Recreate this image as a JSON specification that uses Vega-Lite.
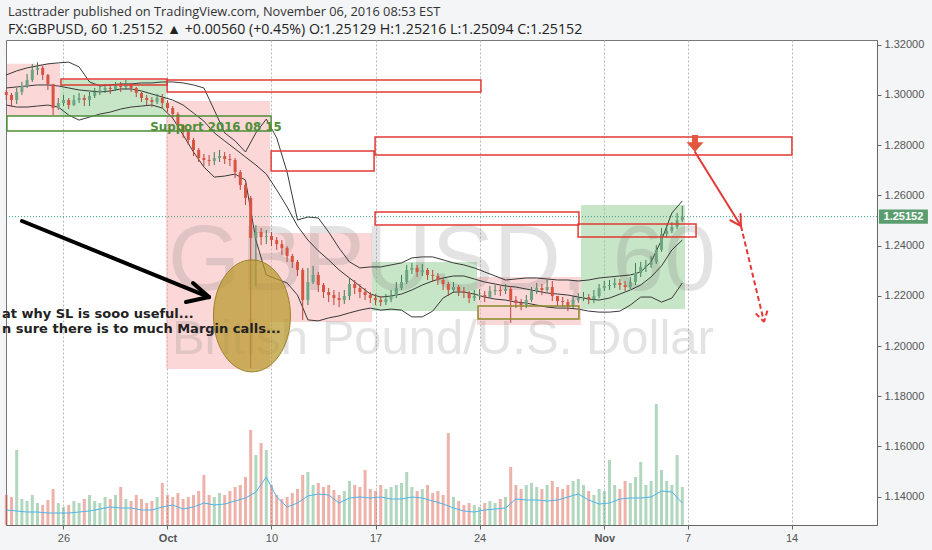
{
  "$schema": "https://vega.github.io/schema/vega-lite/v6.json",
  "width": 871,
  "height": 485,
  "autosize": "none",
  "padding": {"left": 6, "top": 40, "right": 55, "bottom": 25},
  "background": "#f4f5f7",
  "title": {
    "text": "Lasttrader published on TradingView.com, November 06, 2016 08:53 EST",
    "subtitle": "FX:GBPUSD, 60  1.25152 \u25b2 +0.00560 (+0.45%)  O:1.25129  H:1.25216  L:1.25094  C:1.25152",
    "anchor": "start",
    "frame": "group",
    "orient": "top",
    "offset": 2,
    "dx": 2,
    "font": "Open Sans",
    "fontSize": 12.8,
    "fontWeight": "normal",
    "color": "#333",
    "subtitleFont": "Open Sans",
    "subtitleFontSize": 14.2,
    "subtitleColor": "#222",
    "subtitlePadding": 4
  },
  "config": {
    "view": {"fill": "white", "stroke": "#777", "strokeWidth": 1},
    "axis": {"labelFont": "Liberation Sans", "labelColor": "#555", "labelFontSize": 11, "domainColor": "#666", "tickColor": "#666", "tickSize": 4, "title": null}
  },
  "datasets": {
    "candles": [
      {"t":-2.75,"o":1.3012,"h":1.3020,"l":1.2980,"c":1.3000,"v":300},
      {"t":-2.5,"o":1.3000,"h":1.3008,"l":1.2952,"c":1.2980,"v":280},
      {"t":-2.25,"o":1.2980,"h":1.3028,"l":1.2964,"c":1.3012,"v":750},
      {"t":-2,"o":1.3012,"h":1.3052,"l":1.3000,"c":1.3036,"v":260},
      {"t":-1.75,"o":1.3036,"h":1.3084,"l":1.3028,"c":1.3060,"v":240},
      {"t":-1.5,"o":1.3060,"h":1.3124,"l":1.3052,"c":1.3100,"v":300},
      {"t":-1.25,"o":1.3100,"h":1.3131,"l":1.3080,"c":1.3108,"v":220},
      {"t":-1,"o":1.3108,"h":1.3116,"l":1.3060,"c":1.3080,"v":200},
      {"t":-0.75,"o":1.3080,"h":1.3084,"l":1.3020,"c":1.3044,"v":250},
      {"t":-0.5,"o":1.3044,"h":1.3044,"l":1.2920,"c":1.2948,"v":360},
      {"t":-0.25,"o":1.2948,"h":1.2988,"l":1.2940,"c":1.2968,"v":220},
      {"t":0,"o":1.2968,"h":1.3000,"l":1.2956,"c":1.2980,"v":180},
      {"t":0.25,"o":1.2980,"h":1.2988,"l":1.2944,"c":1.2960,"v":200},
      {"t":0.5,"o":1.2960,"h":1.3000,"l":1.2956,"c":1.2980,"v":240},
      {"t":0.75,"o":1.2980,"h":1.3008,"l":1.2968,"c":1.2988,"v":220},
      {"t":1,"o":1.2988,"h":1.3000,"l":1.2956,"c":1.2980,"v":260},
      {"t":1.25,"o":1.2980,"h":1.3012,"l":1.2956,"c":1.2996,"v":300},
      {"t":1.5,"o":1.2996,"h":1.3028,"l":1.2988,"c":1.3012,"v":240},
      {"t":1.75,"o":1.3012,"h":1.3036,"l":1.3000,"c":1.3020,"v":220},
      {"t":2,"o":1.3020,"h":1.3044,"l":1.3008,"c":1.3028,"v":280},
      {"t":2.25,"o":1.3028,"h":1.3044,"l":1.3004,"c":1.3024,"v":260},
      {"t":2.5,"o":1.3024,"h":1.3052,"l":1.3016,"c":1.3036,"v":300},
      {"t":2.75,"o":1.3036,"h":1.3052,"l":1.3012,"c":1.3032,"v":380},
      {"t":3,"o":1.3032,"h":1.3060,"l":1.3020,"c":1.3044,"v":260},
      {"t":3.25,"o":1.3044,"h":1.3048,"l":1.3012,"c":1.3028,"v":240},
      {"t":3.5,"o":1.3028,"h":1.3032,"l":1.2992,"c":1.3008,"v":300},
      {"t":3.75,"o":1.3008,"h":1.3012,"l":1.2972,"c":1.2988,"v":260},
      {"t":4,"o":1.2988,"h":1.3000,"l":1.2960,"c":1.2980,"v":220},
      {"t":4.25,"o":1.2980,"h":1.2992,"l":1.2952,"c":1.2972,"v":240},
      {"t":4.5,"o":1.2972,"h":1.3004,"l":1.2964,"c":1.2988,"v":280},
      {"t":4.75,"o":1.2988,"h":1.3004,"l":1.2948,"c":1.2968,"v":420},
      {"t":5,"o":1.2968,"h":1.2980,"l":1.2932,"c":1.2948,"v":300},
      {"t":5.25,"o":1.2948,"h":1.2956,"l":1.2908,"c":1.2924,"v":280},
      {"t":5.5,"o":1.2924,"h":1.2932,"l":1.2861,"c":1.2880,"v":320},
      {"t":5.75,"o":1.2880,"h":1.2884,"l":1.2829,"c":1.2853,"v":260},
      {"t":6,"o":1.2853,"h":1.2861,"l":1.2801,"c":1.2821,"v":280},
      {"t":6.25,"o":1.2821,"h":1.2829,"l":1.2757,"c":1.2781,"v":300},
      {"t":6.5,"o":1.2781,"h":1.2789,"l":1.2733,"c":1.2749,"v":340},
      {"t":6.75,"o":1.2749,"h":1.2765,"l":1.2717,"c":1.2741,"v":500},
      {"t":7,"o":1.2741,"h":1.2761,"l":1.2717,"c":1.2737,"v":300},
      {"t":7.25,"o":1.2737,"h":1.2773,"l":1.2721,"c":1.2749,"v":280},
      {"t":7.5,"o":1.2749,"h":1.2781,"l":1.2733,"c":1.2757,"v":320},
      {"t":7.75,"o":1.2757,"h":1.2773,"l":1.2725,"c":1.2745,"v":300},
      {"t":8,"o":1.2745,"h":1.2765,"l":1.2717,"c":1.2741,"v":340},
      {"t":8.25,"o":1.2741,"h":1.2749,"l":1.2669,"c":1.2693,"v":380},
      {"t":8.5,"o":1.2693,"h":1.2701,"l":1.2622,"c":1.2641,"v":400},
      {"t":8.75,"o":1.2641,"h":1.2649,"l":1.2562,"c":1.2590,"v":480},
      {"t":9,"o":1.2590,"h":1.2598,"l":1.1912,"c":1.2430,"v":950},
      {"t":9.25,"o":1.2430,"h":1.2482,"l":1.2235,"c":1.2454,"v":700},
      {"t":9.5,"o":1.2454,"h":1.2470,"l":1.2402,"c":1.2434,"v":820},
      {"t":9.75,"o":1.2434,"h":1.2462,"l":1.2406,"c":1.2438,"v":750},
      {"t":10,"o":1.2438,"h":1.2454,"l":1.2398,"c":1.2422,"v":400},
      {"t":10.25,"o":1.2422,"h":1.2434,"l":1.2383,"c":1.2406,"v":300},
      {"t":10.5,"o":1.2406,"h":1.2422,"l":1.2363,"c":1.2390,"v":260},
      {"t":10.75,"o":1.2390,"h":1.2398,"l":1.2335,"c":1.2359,"v":280},
      {"t":11,"o":1.2359,"h":1.2367,"l":1.2311,"c":1.2335,"v":320},
      {"t":11.25,"o":1.2335,"h":1.2343,"l":1.2279,"c":1.2303,"v":360},
      {"t":11.5,"o":1.2303,"h":1.2311,"l":1.2104,"c":1.2183,"v":500},
      {"t":11.75,"o":1.2183,"h":1.2311,"l":1.2163,"c":1.2255,"v":530},
      {"t":12,"o":1.2255,"h":1.2319,"l":1.2247,"c":1.2283,"v":400},
      {"t":12.25,"o":1.2283,"h":1.2295,"l":1.2215,"c":1.2243,"v":420},
      {"t":12.5,"o":1.2243,"h":1.2251,"l":1.2191,"c":1.2215,"v":380},
      {"t":12.75,"o":1.2215,"h":1.2231,"l":1.2175,"c":1.2203,"v":400},
      {"t":13,"o":1.2203,"h":1.2223,"l":1.2163,"c":1.2191,"v":350},
      {"t":13.25,"o":1.2191,"h":1.2215,"l":1.2155,"c":1.2183,"v":300},
      {"t":13.5,"o":1.2183,"h":1.2223,"l":1.2167,"c":1.2199,"v":340},
      {"t":13.75,"o":1.2199,"h":1.2271,"l":1.2183,"c":1.2247,"v":440},
      {"t":14,"o":1.2247,"h":1.2263,"l":1.2207,"c":1.2231,"v":400},
      {"t":14.25,"o":1.2231,"h":1.2247,"l":1.2191,"c":1.2215,"v":380},
      {"t":14.5,"o":1.2215,"h":1.2231,"l":1.2183,"c":1.2203,"v":550},
      {"t":14.75,"o":1.2203,"h":1.2215,"l":1.2171,"c":1.2191,"v":360},
      {"t":15,"o":1.2191,"h":1.2207,"l":1.2163,"c":1.2183,"v":340},
      {"t":15.25,"o":1.2183,"h":1.2199,"l":1.2159,"c":1.2175,"v":400},
      {"t":15.5,"o":1.2175,"h":1.2207,"l":1.2163,"c":1.2187,"v":360},
      {"t":15.75,"o":1.2187,"h":1.2223,"l":1.2175,"c":1.2199,"v":380},
      {"t":16,"o":1.2199,"h":1.2255,"l":1.2191,"c":1.2231,"v":400},
      {"t":16.25,"o":1.2231,"h":1.2283,"l":1.2223,"c":1.2255,"v":420},
      {"t":16.5,"o":1.2255,"h":1.2323,"l":1.2247,"c":1.2303,"v":530},
      {"t":16.75,"o":1.2303,"h":1.2331,"l":1.2287,"c":1.2311,"v":380},
      {"t":17,"o":1.2311,"h":1.2323,"l":1.2275,"c":1.2295,"v":340},
      {"t":17.25,"o":1.2295,"h":1.2327,"l":1.2279,"c":1.2303,"v":360},
      {"t":17.5,"o":1.2303,"h":1.2311,"l":1.2263,"c":1.2283,"v":400},
      {"t":17.75,"o":1.2283,"h":1.2303,"l":1.2255,"c":1.2279,"v":320},
      {"t":18,"o":1.2279,"h":1.2291,"l":1.2243,"c":1.2263,"v":340},
      {"t":18.25,"o":1.2263,"h":1.2275,"l":1.2223,"c":1.2247,"v":300},
      {"t":18.5,"o":1.2247,"h":1.2255,"l":1.2199,"c":1.2223,"v":920},
      {"t":18.75,"o":1.2223,"h":1.2255,"l":1.2211,"c":1.2235,"v":280},
      {"t":19,"o":1.2235,"h":1.2243,"l":1.2199,"c":1.2219,"v":240},
      {"t":19.25,"o":1.2219,"h":1.2235,"l":1.2191,"c":1.2211,"v":200},
      {"t":19.5,"o":1.2211,"h":1.2219,"l":1.2171,"c":1.2191,"v":220},
      {"t":19.75,"o":1.2191,"h":1.2223,"l":1.2179,"c":1.2199,"v":200},
      {"t":20,"o":1.2199,"h":1.2227,"l":1.2183,"c":1.2203,"v":180},
      {"t":20.25,"o":1.2203,"h":1.2219,"l":1.2175,"c":1.2195,"v":220},
      {"t":20.5,"o":1.2195,"h":1.2239,"l":1.2191,"c":1.2219,"v":240},
      {"t":20.75,"o":1.2219,"h":1.2243,"l":1.2203,"c":1.2223,"v":220},
      {"t":21,"o":1.2223,"h":1.2239,"l":1.2199,"c":1.2219,"v":260},
      {"t":21.25,"o":1.2219,"h":1.2247,"l":1.2207,"c":1.2227,"v":280},
      {"t":21.5,"o":1.2227,"h":1.2239,"l":1.2092,"c":1.2183,"v":580},
      {"t":21.75,"o":1.2183,"h":1.2199,"l":1.2151,"c":1.2171,"v":400},
      {"t":22,"o":1.2171,"h":1.2187,"l":1.2143,"c":1.2163,"v":360},
      {"t":22.25,"o":1.2163,"h":1.2203,"l":1.2151,"c":1.2183,"v":400},
      {"t":22.5,"o":1.2183,"h":1.2235,"l":1.2175,"c":1.2219,"v":420},
      {"t":22.75,"o":1.2219,"h":1.2251,"l":1.2207,"c":1.2231,"v":380},
      {"t":23,"o":1.2231,"h":1.2247,"l":1.2203,"c":1.2223,"v":360},
      {"t":23.25,"o":1.2223,"h":1.2263,"l":1.2215,"c":1.2235,"v":400},
      {"t":23.5,"o":1.2235,"h":1.2259,"l":1.2179,"c":1.2199,"v":440},
      {"t":23.75,"o":1.2199,"h":1.2199,"l":1.2159,"c":1.2179,"v":380},
      {"t":24,"o":1.2179,"h":1.2195,"l":1.2155,"c":1.2175,"v":360},
      {"t":24.25,"o":1.2175,"h":1.2187,"l":1.2139,"c":1.2159,"v":400},
      {"t":24.5,"o":1.2159,"h":1.2199,"l":1.2151,"c":1.2183,"v":440},
      {"t":24.75,"o":1.2183,"h":1.2211,"l":1.2171,"c":1.2191,"v":460},
      {"t":25,"o":1.2191,"h":1.2215,"l":1.2179,"c":1.2195,"v":400},
      {"t":25.25,"o":1.2195,"h":1.2207,"l":1.2167,"c":1.2187,"v":340},
      {"t":25.5,"o":1.2187,"h":1.2223,"l":1.2171,"c":1.2199,"v":300},
      {"t":25.75,"o":1.2199,"h":1.2247,"l":1.2191,"c":1.2231,"v":360},
      {"t":26,"o":1.2231,"h":1.2259,"l":1.2219,"c":1.2239,"v":340},
      {"t":26.25,"o":1.2239,"h":1.2263,"l":1.2223,"c":1.2243,"v":650},
      {"t":26.5,"o":1.2243,"h":1.2271,"l":1.2231,"c":1.2251,"v":400},
      {"t":26.75,"o":1.2251,"h":1.2267,"l":1.2223,"c":1.2243,"v":360},
      {"t":27,"o":1.2243,"h":1.2259,"l":1.2219,"c":1.2235,"v":440},
      {"t":27.25,"o":1.2235,"h":1.2275,"l":1.2227,"c":1.2255,"v":420},
      {"t":27.5,"o":1.2255,"h":1.2331,"l":1.2243,"c":1.2291,"v":480},
      {"t":27.75,"o":1.2291,"h":1.2335,"l":1.2275,"c":1.2315,"v":630},
      {"t":28,"o":1.2315,"h":1.2343,"l":1.2295,"c":1.2323,"v":400},
      {"t":28.25,"o":1.2323,"h":1.2359,"l":1.2311,"c":1.2335,"v":440},
      {"t":28.5,"o":1.2335,"h":1.2402,"l":1.2327,"c":1.2383,"v":1210},
      {"t":28.75,"o":1.2383,"h":1.2470,"l":1.2375,"c":1.2446,"v":550},
      {"t":29,"o":1.2446,"h":1.2482,"l":1.2434,"c":1.2458,"v":440},
      {"t":29.25,"o":1.2458,"h":1.2494,"l":1.2450,"c":1.2474,"v":400},
      {"t":29.5,"o":1.2474,"h":1.2530,"l":1.2466,"c":1.2502,"v":700},
      {"t":29.75,"o":1.2502,"h":1.2558,"l":1.2494,"c":1.2515,"v":380}
    ],
    "bands": [
      {"t":-2.75,"u":1.3080,"m":1.3028,"lo":1.2960,"vm":150},
      {"t":-2.25,"u":1.3096,"m":1.3032,"lo":1.2952,"vm":140},
      {"t":-1.75,"u":1.3108,"m":1.3036,"lo":1.2952,"vm":130},
      {"t":-1.25,"u":1.3116,"m":1.3040,"lo":1.2956,"vm":130},
      {"t":-0.75,"u":1.3124,"m":1.3040,"lo":1.2960,"vm":120},
      {"t":-0.25,"u":1.3128,"m":1.3036,"lo":1.2952,"vm":120},
      {"t":0.25,"u":1.3131,"m":1.3028,"lo":1.2920,"vm":120},
      {"t":0.75,"u":1.3112,"m":1.3020,"lo":1.2900,"vm":130},
      {"t":1.25,"u":1.3052,"m":1.3016,"lo":1.2912,"vm":140},
      {"t":1.75,"u":1.3036,"m":1.3012,"lo":1.2924,"vm":160},
      {"t":2.25,"u":1.3040,"m":1.3016,"lo":1.2932,"vm":180},
      {"t":2.75,"u":1.3044,"m":1.3024,"lo":1.2944,"vm":170},
      {"t":3.25,"u":1.3044,"m":1.3024,"lo":1.2952,"vm":170},
      {"t":3.75,"u":1.3048,"m":1.3016,"lo":1.2956,"vm":150},
      {"t":4.25,"u":1.3048,"m":1.3004,"lo":1.2960,"vm":150},
      {"t":4.75,"u":1.3052,"m":1.2992,"lo":1.2948,"vm":180},
      {"t":5.25,"u":1.3052,"m":1.2980,"lo":1.2908,"vm":200},
      {"t":5.75,"u":1.3048,"m":1.2960,"lo":1.2841,"vm":160},
      {"t":6.25,"u":1.3040,"m":1.2928,"lo":1.2773,"vm":180},
      {"t":6.75,"u":1.3028,"m":1.2896,"lo":1.2713,"vm":220},
      {"t":7.25,"u":1.2940,"m":1.2849,"lo":1.2673,"vm":200},
      {"t":7.75,"u":1.2849,"m":1.2817,"lo":1.2677,"vm":210},
      {"t":8.25,"u":1.2817,"m":1.2785,"lo":1.2685,"vm":240},
      {"t":8.75,"u":1.2773,"m":1.2753,"lo":1.2661,"vm":270},
      {"t":9.25,"u":1.2849,"m":1.2721,"lo":1.2422,"vm":330},
      {"t":9.75,"u":1.2904,"m":1.2685,"lo":1.2283,"vm":480},
      {"t":10.25,"u":1.2829,"m":1.2622,"lo":1.2267,"vm":280},
      {"t":10.75,"u":1.2693,"m":1.2554,"lo":1.2251,"vm":180},
      {"t":11.25,"u":1.2502,"m":1.2478,"lo":1.2203,"vm":220},
      {"t":11.75,"u":1.2514,"m":1.2422,"lo":1.2104,"vm":290},
      {"t":12.25,"u":1.2510,"m":1.2379,"lo":1.2100,"vm":310},
      {"t":12.75,"u":1.2454,"m":1.2343,"lo":1.2112,"vm":300},
      {"t":13.25,"u":1.2390,"m":1.2303,"lo":1.2120,"vm":220},
      {"t":13.75,"u":1.2335,"m":1.2271,"lo":1.2132,"vm":270},
      {"t":14.25,"u":1.2311,"m":1.2239,"lo":1.2143,"vm":280},
      {"t":14.75,"u":1.2315,"m":1.2207,"lo":1.2151,"vm":270},
      {"t":15.25,"u":1.2315,"m":1.2195,"lo":1.2143,"vm":280},
      {"t":15.75,"u":1.2323,"m":1.2199,"lo":1.2147,"vm":260},
      {"t":16.25,"u":1.2331,"m":1.2207,"lo":1.2143,"vm":260},
      {"t":16.75,"u":1.2351,"m":1.2223,"lo":1.2116,"vm":280},
      {"t":17.25,"u":1.2355,"m":1.2243,"lo":1.2116,"vm":270},
      {"t":17.75,"u":1.2355,"m":1.2259,"lo":1.2139,"vm":240},
      {"t":18.25,"u":1.2343,"m":1.2271,"lo":1.2191,"vm":210},
      {"t":18.75,"u":1.2331,"m":1.2279,"lo":1.2215,"vm":170},
      {"t":19.25,"u":1.2323,"m":1.2279,"lo":1.2215,"vm":140},
      {"t":19.75,"u":1.2311,"m":1.2267,"lo":1.2207,"vm":130},
      {"t":20.25,"u":1.2295,"m":1.2255,"lo":1.2195,"vm":150},
      {"t":20.75,"u":1.2279,"m":1.2247,"lo":1.2187,"vm":160},
      {"t":21.25,"u":1.2263,"m":1.2239,"lo":1.2183,"vm":170},
      {"t":21.75,"u":1.2267,"m":1.2235,"lo":1.2175,"vm":260},
      {"t":22.25,"u":1.2271,"m":1.2227,"lo":1.2171,"vm":250},
      {"t":22.75,"u":1.2271,"m":1.2219,"lo":1.2163,"vm":250},
      {"t":23.25,"u":1.2267,"m":1.2211,"lo":1.2155,"vm":240},
      {"t":23.75,"u":1.2263,"m":1.2207,"lo":1.2151,"vm":250},
      {"t":24.25,"u":1.2263,"m":1.2203,"lo":1.2151,"vm":280},
      {"t":24.75,"u":1.2259,"m":1.2195,"lo":1.2147,"vm":310},
      {"t":25.25,"u":1.2263,"m":1.2187,"lo":1.2139,"vm":250},
      {"t":25.75,"u":1.2271,"m":1.2183,"lo":1.2135,"vm":210},
      {"t":26.25,"u":1.2275,"m":1.2191,"lo":1.2135,"vm":220},
      {"t":26.75,"u":1.2279,"m":1.2207,"lo":1.2139,"vm":260},
      {"t":27.25,"u":1.2283,"m":1.2223,"lo":1.2163,"vm":270},
      {"t":27.75,"u":1.2295,"m":1.2243,"lo":1.2195,"vm":270},
      {"t":28.25,"u":1.2335,"m":1.2275,"lo":1.2195,"vm":280},
      {"t":28.75,"u":1.2422,"m":1.2319,"lo":1.2175,"vm":340},
      {"t":29.25,"u":1.2530,"m":1.2383,"lo":1.2191,"vm":330},
      {"t":29.75,"u":1.2578,"m":1.2422,"lo":1.2251,"vm":220}
    ],
    "zones": [
      {"t1":-2.72,"t2":-0.17,"p1":1.3124,"p2":1.2916,"kind":"sell"},
      {"t1":-0.17,"t2":4.93,"p1":1.3060,"p2":1.2916,"kind":"buy"},
      {"t1":4.93,"t2":9.93,"p1":1.2976,"p2":1.1908,"kind":"sell"},
      {"t1":9.93,"t2":14.83,"p1":1.2450,"p2":1.2096,"kind":"sell"},
      {"t1":14.83,"t2":19.88,"p1":1.2335,"p2":1.2139,"kind":"buy"},
      {"t1":19.88,"t2":24.88,"p1":1.2275,"p2":1.2084,"kind":"sell"},
      {"t1":24.88,"t2":29.88,"p1":1.2562,"p2":1.2147,"kind":"buy"}
    ],
    "boxes": [
      {"t1":-0.12,"t2":4.98,"p1":1.3064,"p2":1.3040,"kind":"resistance"},
      {"t1":-2.72,"t2":9.98,"p1":1.2916,"p2":1.2857,"kind":"support"},
      {"t1":4.98,"t2":20.07,"p1":1.3060,"p2":1.3012,"kind":"resistance"},
      {"t1":9.98,"t2":14.93,"p1":1.2777,"p2":1.2697,"kind":"resistance"},
      {"t1":14.98,"t2":35.02,"p1":1.2833,"p2":1.2761,"kind":"resistance"},
      {"t1":14.98,"t2":24.78,"p1":1.2534,"p2":1.2482,"kind":"resistance"},
      {"t1":19.93,"t2":24.78,"p1":1.2159,"p2":1.2108,"kind":"range"},
      {"t1":24.74,"t2":30.41,"p1":1.2486,"p2":1.2434,"kind":"resistance"}
    ],
    "watermark": [
      {"t":18.2,"p":1.2223,"text":"GBPUSD, 60","role":"symbol"},
      {"t":18.24,"p":1.1968,"text":"British Pound/U.S. Dollar","role":"name"}
    ],
    "support": [
      {"t":7.33,"p":1.2857,"text":"Support 2016 08 15"}
    ],
    "notes": [
      {"t":-2.96,"p":1.2110,"text":"at why SL is sooo useful..."},
      {"t":-2.96,"p":1.2052,"text":"n sure there is to much Margin calls..."}
    ],
    "crash": [
      {"t":9.06,"p":1.2120}
    ],
    "pointer": [
      {"t1":-1.995,"p1":1.2498,"t2":6.995,"p2":1.2195},
      {"t1":6.226,"p1":1.2251,"t2":6.995,"p2":1.2195},
      {"t1":5.889,"p1":1.2175,"t2":6.995,"p2":1.2195}
    ],
    "forecast": [
      {"t1":30.36,"p1":1.2773,"t2":32.57,"p2":1.2478,"leg":"first"},
      {"t1":32.55,"p1":1.2526,"t2":32.57,"p2":1.2478,"leg":"first"},
      {"t1":32.06,"p1":1.2501,"t2":32.57,"p2":1.2478,"leg":"first"},
      {"t1":32.57,"p1":1.2478,"t2":33.68,"p2":1.2096,"leg":"second"},
      {"t1":33.84,"p1":1.2141,"t2":33.68,"p2":1.2096,"leg":"second"},
      {"t1":33.28,"p1":1.2130,"t2":33.68,"p2":1.2096,"leg":"second"}
    ],
    "signal": [
      {"t":30.36,"p":1.2807}
    ],
    "last": [
      {"p":1.25152,"label":"1.25152"}
    ]
  },
  "resolve": {"scale": {"y": "independent"}},
  "layer": [
    {
      "layer": [
        {
          "data": {"name": "candles"},
          "mark": {"type": "rule", "strokeWidth": 3, "opacity": 0.45},
          "encoding": {
            "x": {
              "field": "t", "type": "quantitative",
              "scale": {"domain": [-2.764, 39.11], "nice": false, "zero": false},
              "axis": {
                "values": [0, 5, 10, 15, 20, 26, 30, 35],
                "labelExpr": "datum.value == 0 ? '26' : datum.value == 5 ? 'Oct' : datum.value == 10 ? '10' : datum.value == 15 ? '17' : datum.value == 20 ? '24' : datum.value == 26 ? 'Nov' : datum.value == 30 ? '7' : '14'",
                "labelFontWeight": {"condition": {"test": "datum.value == 5 || datum.value == 26", "value": "bold"}, "value": "normal"},
                "grid": true, "gridDash": [2, 2], "gridColor": "#b8b8b8", "labelPadding": 3
              }
            },
            "y": {"field": "v", "type": "quantitative", "scale": {"domain": [0, 4850], "nice": false}, "axis": null},
            "y2": {"datum": 0},
            "color": {"condition": {"test": "datum.c >= datum.o", "value": "#53a66f"}, "value": "#d75442"}
          }
        },
        {
          "data": {"name": "bands"},
          "mark": {"type": "line", "color": "#4fb3e8", "strokeWidth": 1},
          "encoding": {
            "x": {"field": "t", "type": "quantitative"},
            "y": {"field": "vm", "type": "quantitative"}
          }
        }
      ]
    },
    {
      "layer": [
        {
          "data": {"name": "zones"},
          "mark": {"type": "rect", "opacity": 0.5},
          "encoding": {
            "x": {"field": "t1", "type": "quantitative"},
            "x2": {"field": "t2"},
            "y": {
              "field": "p1", "type": "quantitative",
              "scale": {"domain": [1.12869, 1.32191], "nice": false, "zero": false},
              "axis": {"orient": "right", "values": [1.14, 1.16, 1.18, 1.2, 1.22, 1.24, 1.26, 1.28, 1.3, 1.32], "format": ".5f", "grid": false, "labelPadding": 3}
            },
            "y2": {"field": "p2"},
            "fill": {"field": "kind", "type": "nominal", "scale": {"domain": ["sell", "buy"], "range": ["#f7b0b0", "#8fcc8f"]}, "legend": null}
          }
        },
        {
          "data": {"name": "last"},
          "mark": {"type": "rule", "color": "#3a9a7a", "strokeWidth": 1, "strokeDash": [1, 2]},
          "encoding": {"y": {"field": "p", "type": "quantitative"}}
        },
        {
          "data": {"name": "watermark"},
          "transform": [{"filter": "datum.role == 'symbol'"}],
          "mark": {"type": "text", "font": "Liberation Sans", "fontSize": 93, "align": "center", "baseline": "alphabetic", "color": "#777", "opacity": 0.2},
          "encoding": {
            "x": {"field": "t", "type": "quantitative"},
            "y": {"field": "p", "type": "quantitative"},
            "text": {"field": "text"}
          }
        },
        {
          "data": {"name": "watermark"},
          "transform": [{"filter": "datum.role == 'name'"}],
          "mark": {"type": "text", "font": "Liberation Sans", "fontSize": 49, "align": "center", "baseline": "alphabetic", "color": "#777", "opacity": 0.2},
          "encoding": {
            "x": {"field": "t", "type": "quantitative"},
            "y": {"field": "p", "type": "quantitative"},
            "text": {"field": "text"}
          }
        },
        {
          "data": {"name": "bands"},
          "mark": {"type": "line", "color": "#3a3a3a", "strokeWidth": 1},
          "encoding": {"x": {"field": "t", "type": "quantitative"}, "y": {"field": "u", "type": "quantitative"}}
        },
        {
          "data": {"name": "bands"},
          "mark": {"type": "line", "color": "#3a3a3a", "strokeWidth": 1},
          "encoding": {"x": {"field": "t", "type": "quantitative"}, "y": {"field": "m", "type": "quantitative"}}
        },
        {
          "data": {"name": "bands"},
          "mark": {"type": "line", "color": "#3a3a3a", "strokeWidth": 1},
          "encoding": {"x": {"field": "t", "type": "quantitative"}, "y": {"field": "lo", "type": "quantitative"}}
        },
        {
          "data": {"name": "candles"},
          "mark": {"type": "rule", "strokeWidth": 1},
          "encoding": {
            "x": {"field": "t", "type": "quantitative"},
            "y": {"field": "l", "type": "quantitative"},
            "y2": {"field": "h"},
            "color": {"condition": {"test": "datum.c >= datum.o", "value": "#3f7f55"}, "value": "#b8473a"}
          }
        },
        {
          "data": {"name": "candles"},
          "mark": {"type": "rule", "strokeWidth": 3},
          "encoding": {
            "x": {"field": "t", "type": "quantitative"},
            "y": {"field": "o", "type": "quantitative"},
            "y2": {"field": "c"},
            "color": {"condition": {"test": "datum.c >= datum.o", "value": "#6ba583"}, "value": "#d75442"}
          }
        },
        {
          "data": {"name": "boxes"},
          "mark": {"type": "rect", "filled": false, "strokeWidth": 1.5},
          "encoding": {
            "x": {"field": "t1", "type": "quantitative"},
            "x2": {"field": "t2"},
            "y": {"field": "p1", "type": "quantitative"},
            "y2": {"field": "p2"},
            "stroke": {"field": "kind", "type": "nominal", "scale": {"domain": ["resistance", "support", "range"], "range": ["#e03a35", "#4e8f37", "#8a8a2a"]}, "legend": null}
          }
        },
        {
          "data": {"name": "crash"},
          "mark": {"type": "point", "shape": "M0,-1A0.6875,1,0,1,1,0,1A0.6875,1,0,1,1,0,-1Z", "size": 12544, "filled": true, "fill": "#b8992c", "fillOpacity": 0.72, "stroke": "#9c8226", "strokeWidth": 1, "opacity": 1},
          "encoding": {"x": {"field": "t", "type": "quantitative"}, "y": {"field": "p", "type": "quantitative"}}
        },
        {
          "data": {"name": "support"},
          "mark": {"type": "text", "font": "DejaVu Sans", "fontWeight": "bold", "fontSize": 11.8, "align": "center", "baseline": "alphabetic", "color": "#4e8f37"},
          "encoding": {
            "x": {"field": "t", "type": "quantitative"},
            "y": {"field": "p", "type": "quantitative"},
            "text": {"field": "text"}
          }
        },
        {
          "data": {"name": "notes"},
          "mark": {"type": "text", "font": "DejaVu Sans", "fontWeight": "bold", "fontSize": 13, "align": "left", "baseline": "alphabetic", "color": "#222"},
          "encoding": {
            "x": {"field": "t", "type": "quantitative"},
            "y": {"field": "p", "type": "quantitative"},
            "text": {"field": "text"}
          }
        },
        {
          "data": {"name": "pointer"},
          "mark": {"type": "rule", "color": "#000", "strokeWidth": 4, "strokeCap": "round"},
          "encoding": {
            "x": {"field": "t1", "type": "quantitative"},
            "y": {"field": "p1", "type": "quantitative"},
            "x2": {"field": "t2"},
            "y2": {"field": "p2"}
          }
        },
        {
          "data": {"name": "forecast"},
          "transform": [{"filter": "datum.leg == 'first'"}],
          "mark": {"type": "rule", "color": "#e53935", "strokeWidth": 2, "strokeCap": "round"},
          "encoding": {
            "x": {"field": "t1", "type": "quantitative"},
            "y": {"field": "p1", "type": "quantitative"},
            "x2": {"field": "t2"},
            "y2": {"field": "p2"}
          }
        },
        {
          "data": {"name": "forecast"},
          "transform": [{"filter": "datum.leg == 'second'"}],
          "mark": {"type": "rule", "color": "#e53935", "strokeWidth": 2, "strokeDash": [5, 3]},
          "encoding": {
            "x": {"field": "t1", "type": "quantitative"},
            "y": {"field": "p1", "type": "quantitative"},
            "x2": {"field": "t2"},
            "y2": {"field": "p2"}
          }
        },
        {
          "data": {"name": "signal"},
          "mark": {"type": "point", "shape": "M-0.35,-1L0.35,-1L0.35,-0.15L1,-0.15L0,1L-1,-0.15L-0.35,-0.15Z", "size": 289, "filled": true, "fill": "#e2583e", "opacity": 1},
          "encoding": {"x": {"field": "t", "type": "quantitative"}, "y": {"field": "p", "type": "quantitative"}}
        },
        {
          "data": {"name": "last"},
          "mark": {"type": "point", "shape": "M-1,-0.29L1,-0.29L1,0.29L-1,0.29Z", "size": 2401, "filled": true, "fill": "#5a9e70", "opacity": 1},
          "encoding": {"x": {"datum": 40.38, "type": "quantitative"}, "y": {"field": "p", "type": "quantitative"}}
        },
        {
          "data": {"name": "last"},
          "mark": {"type": "text", "font": "Liberation Sans", "fontWeight": "bold", "fontSize": 11, "align": "center", "baseline": "middle", "color": "white"},
          "encoding": {
            "x": {"datum": 40.38, "type": "quantitative"},
            "y": {"field": "p", "type": "quantitative"},
            "text": {"field": "label"}
          }
        }
      ]
    }
  ]
}
